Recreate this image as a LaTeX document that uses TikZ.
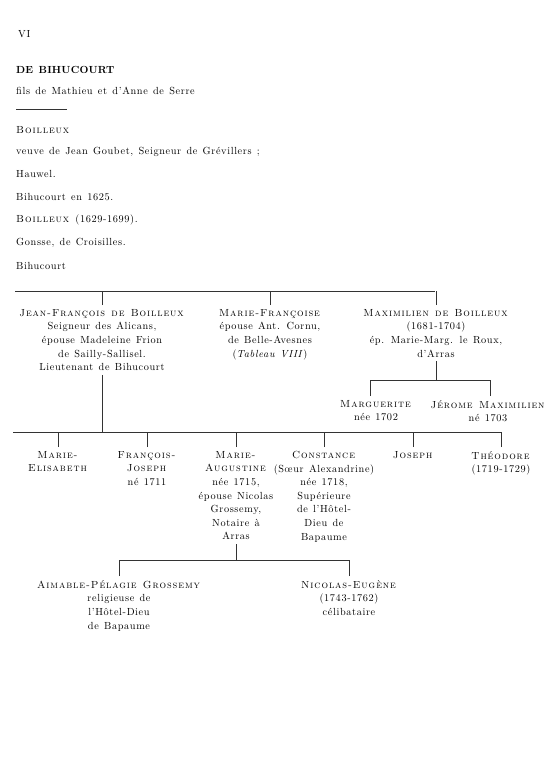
\documentclass[tikz,border=0pt]{standalone}
\usepackage{fontspec}
\setmainfont{lmroman10}[Extension=.otf, UprightFont=*-regular, BoldFont=*-bold, ItalicFont=*-italic, SmallCapsFont=lmromancaps10-regular, LetterSpace=6, WordSpace=1.3, BoldFeatures={LetterSpace=2}, SmallCapsFeatures={LetterSpace=9}]
\newcommand{\treefont}{\fontsize{10.3}{13.6}\selectfont}
\tikzset{
    person/.style={align=center, anchor=north, inner xsep=1pt, inner ysep=4pt, font=\treefont},
    header/.style={anchor=west, inner sep=0pt, font=\treefont},
    branch/.style={line width=0.6pt, black!80}
}
\begin{document}
\begin{tikzpicture}[x=1pt,y=-1pt]
    \useasboundingbox (0,0) rectangle (555,768);

    % heading of the page
    \node[header] (page) at (18,34) {VI};
    \node[header,font=\treefont\bfseries] (title) at (16,70) {DE BIHUCOURT};
    \node[header] (fils) at (16,91) {fils de Mathieu et d'Anne de Serre};
    \draw[branch] (16,109) -- (67,109);
    \node[header] (h1) at (16,130) {\textsc{Boilleux}};
    \node[header] (h2) at (16,152) {veuve de Jean Goubet, Seigneur de Grévillers ;};
    \node[header] (h3) at (16,174) {Hauwel.};
    \node[header] (h4) at (16,197) {Bihucourt en 1625.};
    \node[header] (h5) at (16,220) {\textsc{Boilleux} (1629-1699).};
    \node[header] (h6) at (16,243) {Gonsse, de Croisilles.};
    \node[header] (h7) at (16,266) {Bihucourt};

    % first generation
    \coordinate (barA) at (15,291);
    \coordinate (barAend) at (435,291);
    \draw[branch] (barA) -- (barAend);
    \node[person] (jf) at (102,305) {\textsc{Jean-François de Boilleux}\\Seigneur des Alicans,\\épouse Madeleine Frion\\de Sailly-Sallisel.\\Lieutenant de Bihucourt};
    \node[person] (mf) at (270,305) {\textsc{Marie-Françoise}\\épouse Ant. Cornu,\\de Belle-Avesnes\\(\textit{Tableau VIII})};
    \node[person] (max) at (436,305) {\textsc{Maximilien de Boilleux}\\(1681-1704)\\ép. Marie-Marg. le Roux,\\d'Arras};
    \foreach \n in {jf,mf,max}
        \draw[branch] (\n.north) -- (\n.north |- barA);

    % children of Maximilien
    \coordinate (barB) at (370,380);
    \coordinate (barBend) at (490,380);
    \draw[branch] (barB) -- (barBend);
    \draw[branch] (max.south) -- (max.south |- barB);
    \node[person] (marg) at (376,396) {\textsc{Marguerite}\\née 1702};
    \node[person] (jer) at (488,396) {\textsc{Jérome Maximilien}\\né 1703};
    \draw[branch] (marg.north -| barB) -- (barB);
    \draw[branch] (jer.north -| barBend) -- (barBend);

    % children of Jean-Francois
    \coordinate (barC) at (13,432);
    \coordinate (barCend) at (502,432);
    \draw[branch] (barC) -- (barCend);
    \draw[branch] (jf.south) -- (jf.south |- barC);
    \node[person] (me) at (58,447) {\textsc{Marie-}\\\textsc{Elisabeth}};
    \node[person] (fj) at (147,447) {\textsc{François-}\\\textsc{Joseph}\\né 1711};
    \node[person] (ma) at (236,447) {\textsc{Marie-}\\\textsc{Augustine}\\née 1715,\\épouse Nicolas\\Grossemy,\\Notaire à\\Arras};
    \node[person] (con) at (324,447) {\textsc{Constance}\\(Sœur Alexandrine)\\née 1718,\\Supérieure\\de l'Hôtel-\\Dieu de\\Bapaume};
    \node[person] (jos) at (413,447) {\textsc{Joseph}};
    \node[person] (theo) at (501,447) {\textsc{Théodore}\\(1719-1729)};
    \foreach \n in {me,fj,ma,con,jos,theo}
        \draw[branch] (\n.north) -- (\n.north |- barC);

    % children of Marie-Augustine
    \coordinate (barD) at (119,560);
    \coordinate (barDend) at (349,560);
    \draw[branch] (barD) -- (barDend);
    \draw[branch] (ma.south) -- (ma.south |- barD);
    \node[person] (ap) at (119,576) {\textsc{Aimable-Pélagie Grossemy}\\religieuse de\\l'Hôtel-Dieu\\de Bapaume};
    \node[person] (ne) at (349,576) {\textsc{Nicolas-Eugène}\\(1743-1762)\\célibataire};
    \foreach \n in {ap,ne}
        \draw[branch] (\n.north) -- (\n.north |- barD);
\end{tikzpicture}
\end{document}
